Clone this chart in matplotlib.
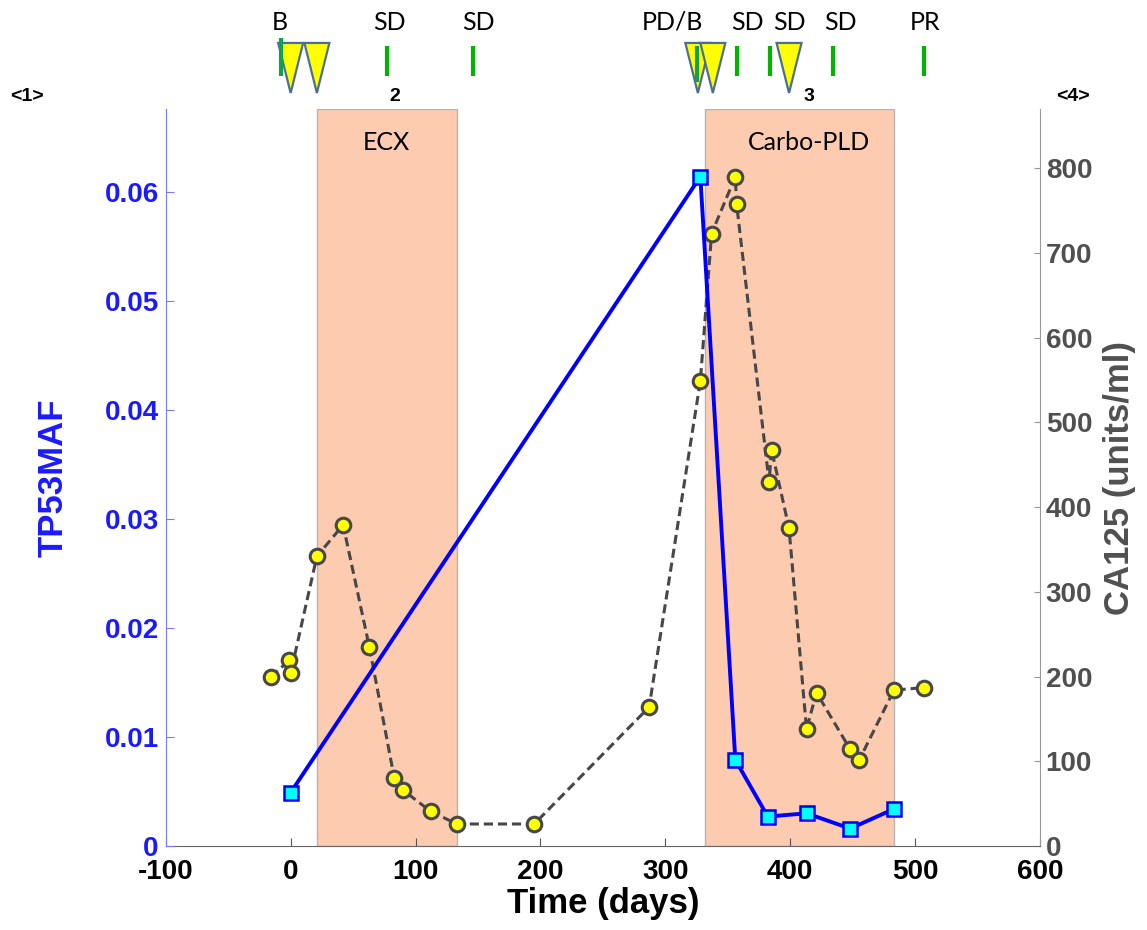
import matplotlib
matplotlib.use("Agg")
import matplotlib.pyplot as plt

plt.rcParams['font.family'] = ['Liberation Sans', 'DejaVu Sans']
plt.rcParams['font.weight'] = 'bold'
plt.rcParams['axes.labelweight'] = 'bold'
plt.rcParams['axes.unicode_minus'] = False

# TP53 mutant allele fraction (left axis)
maf_days = [0, 328, 356, 382, 413, 448, 483]
maf_vals = [0.0049, 0.0614, 0.0079, 0.0027, 0.0030, 0.0016, 0.0034]

# CA125 (right axis)
ca_days = [-16, -1, 0, 21, 42, 63, 83, 90, 112, 133, 195, 287, 328, 337,
           356, 357, 383, 385, 399, 413, 421, 448, 455, 483, 507]
ca_vals = [200, 219, 204, 342, 379, 235, 80, 66, 41, 26, 26, 164, 549, 723,
           790, 758, 430, 468, 375, 138, 181, 114, 101, 184, 187]

# treatment windows
treat_names = ['ECX', 'Carbo-PLD']
treat_start = [21, 332]
treat_end = [133, 483]
treat_text_x = [77, 415]

# events above the plot
event_labels = ['B', 'SD', 'SD', 'PD/B', 'SD', 'SD', 'SD', 'PR']
event_label_x = [-9, 79, 150, 306, 366, 399, 440, 508]
bar_days = [-8, 77, 146, 325, 357, 384, 434, 507]
bar_kind = ['biopsy', 'scan', 'scan', 'biopsy', 'scan', 'scan', 'scan', 'scan']
tri_days = [0, 21, 326, 338, 399]
line_nums = ['<1>', '2', '3', '<4>']
line_num_x = [-211, 83, 415, 626]

fig = plt.figure(figsize=(11.47, 9.30), dpi=100)
ax = fig.add_axes([0.1445, 0.0903, 0.7623, 0.7925])
tp = ax.twinx()

ax.set_xlim(-100, 600)
ax.set_ylim(0, 870)
tp.set_ylim(0, 0.0676)

for s, e in zip(treat_start, treat_end):
    ax.axvspan(s, e, facecolor='#fdcbb0', edgecolor='#b5b5b5', lw=1.0, zorder=0)
for name, xt in zip(treat_names, treat_text_x):
    ax.text(xt, 0.955, name, transform=ax.get_xaxis_transform(), ha='center',
            va='center', fontsize=18, fontweight='normal', family='Lato', color='black')

ax.plot(ca_days, ca_vals, color='#474747', lw=2.2, dashes=(3, 1.6), marker='o',
        ms=10.5, mfc='#ffff00', mec='#474747', mew=2.2, zorder=3)
tp.plot(maf_days, maf_vals, color='#0000ff', lw=2.8, marker='s', ms=9.5,
        mfc='#00ffff', mec='#0000ff', mew=1.8, zorder=4)

# axes styling
ax.yaxis.tick_right()
ax.yaxis.set_label_position('right')
tp.yaxis.tick_left()
tp.yaxis.set_label_position('left')

ax.set_xticks(range(-100, 601, 100))
ax.set_yticks(range(0, 801, 100))
tp.set_yticks([0, 0.01, 0.02, 0.03, 0.04, 0.05, 0.06])
tp.set_yticklabels(['0', '0.01', '0.02', '0.03', '0.04', '0.05', '0.06'])

ax.tick_params(axis='x', direction='in', length=6, labelsize=20, pad=9, colors='#555555',
               labelcolor='black', top=False)
ax.tick_params(axis='y', direction='in', length=4, labelsize=20, pad=4,
               colors='#999999', labelcolor='#505050', left=False, right=True)
tp.tick_params(axis='y', direction='in', length=6, labelsize=20, pad=5,
               colors='#7777ff', labelcolor='#1a1aff', left=True, right=False)

for sp in ['top', 'left']:
    ax.spines[sp].set_visible(False)
ax.spines['right'].set_color('#999999')
ax.spines['bottom'].set_color('#666666')
for sp in ['top', 'right', 'bottom']:
    tp.spines[sp].set_visible(False)
tp.spines['left'].set_color('#7777ff')

ax.set_xlabel('Time (days)', fontsize=25, fontweight='bold', color='black', labelpad=2)
ax.set_ylabel('CA125 (units/ml)', fontsize=25, fontweight='bold', color='#505050')
ax.yaxis.set_label_coords(1.072, 0.5)
tp.set_ylabel('TP53MAF', fontsize=25, fontweight='bold', color='#1a1aff')
tp.yaxis.set_label_coords(-0.1095, 0.5)

# event markers above the axes
trans = ax.get_xaxis_transform()
for d in tri_days:
    ax.fill([d - 10, d + 10, d], [1.0896, 1.0896, 1.0217], transform=trans,
            facecolor='#ffff00', edgecolor='#4a6f96', lw=1.6, clip_on=False, zorder=5)
for d, k in zip(bar_days, bar_kind):
    if k == 'biopsy':
        top, bot, col = 1.0963, 1.0448, '#10a050'
        if d > 300:
            top, bot = 1.0855, 1.0367
    else:
        top, bot, col = 1.0855, 1.0448, '#00b400'
    ax.plot([d, d], [bot, top], transform=trans, color=col, lw=3.0,
            solid_capstyle='butt', clip_on=False, zorder=6)
for lab, x in zip(event_labels, event_label_x):
    ax.text(x, 1.118, lab, transform=trans, ha='center', va='center', fontsize=18,
            fontweight='normal', family='Lato', color='black')
for lab, x in zip(line_nums, line_num_x):
    ax.text(x, 1.0176, lab, transform=trans, ha='center', va='center', fontsize=14,
            fontweight='bold', color='black')

fig.savefig('out.png', dpi=100)
